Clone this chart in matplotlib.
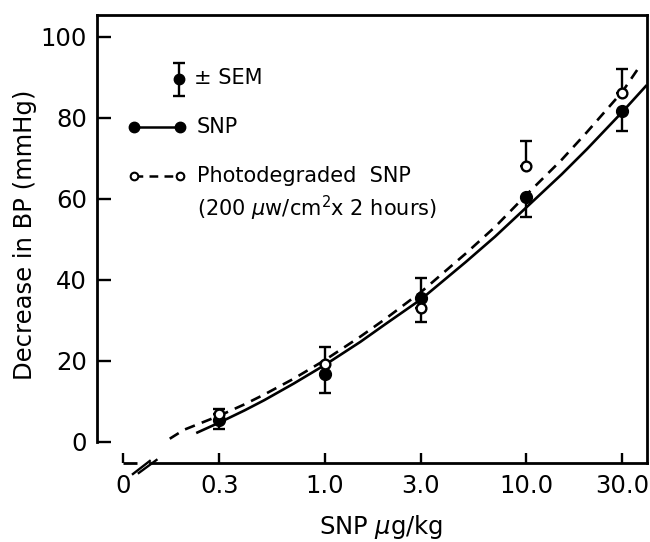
import matplotlib
matplotlib.use("Agg")
import matplotlib.pyplot as plt
import numpy as np

plt.rcParams['font.family'] = ['DejaVu Sans']
plt.rcParams['mathtext.fontset'] = 'dejavusans'

# dose levels (ug/kg) and tick labels
dose = [0.3, 1.0, 3.0, 10.0, 30.0]
zero_pos = 0.0994          # where "0" sits on the broken log axis
tick_pos = [zero_pos] + dose
tick_labels = ["0", "0.3", "1.0", "3.0", "10.0", "30.0"]

# SNP (filled circles), one-sided SEM bars
snp_mean = [5.3, 16.8, 35.6, 60.5, 81.7]
snp_err_lo = [2.1, 4.7, 0.0, 4.9, 4.9]
snp_err_hi = [0.0, 0.0, 4.9, 0.0, 0.0]

# photodegraded SNP (open circles)
photo_mean = [6.8, 19.3, 33.1, 68.1, 86.2]
photo_err_lo = [0.0, 0.0, 3.5, 0.0, 0.0]
photo_err_hi = [1.3, 4.2, 0.0, 6.2, 5.9]

# fitted curves
snp_curve_x = [0.23, 0.3, 0.4, 0.5, 0.7, 1.0, 1.5, 2.0, 3.0, 5.0, 7.0, 10.0, 15.0, 20.0, 30.0, 39.6]
snp_curve_y = [2.2, 4.8, 7.8, 10.3, 14.4, 19.0, 24.7, 29.1, 35.2, 44.4, 50.7, 57.9, 66.1, 72.3, 81.5, 88.1]
photo_curve_x = [0.17, 0.2, 0.3, 0.4, 0.5, 0.7, 1.0, 1.5, 2.0, 3.0, 5.0, 7.0, 10.0, 15.0, 20.0, 30.0, 36.6]
photo_curve_y = [0.8, 3.0, 6.5, 9.3, 11.7, 15.6, 20.2, 26.0, 30.4, 37.0, 46.5, 53.1, 61.0, 69.7, 76.5, 86.5, 92.8]

fig = plt.figure(figsize=(6.5, 5.42), dpi=100)
ax = fig.add_axes([0.149, 0.1458, 0.846, 0.8265])
ax.set_xscale('log')
ax.set_xlim(0.0739, 39.6)
ax.set_ylim(-5.19, 105.4)

lw = 1.9
ax.plot(snp_curve_x, snp_curve_y, color='black', lw=lw, solid_capstyle='butt', zorder=2)
ax.plot(photo_curve_x, photo_curve_y, color='black', lw=lw, dashes=(4.0, 2.8), zorder=2)

# error bars
ax.errorbar(dose, snp_mean, yerr=[snp_err_lo, snp_err_hi], fmt='none',
            ecolor='black', elinewidth=1.7, capsize=4, capthick=1.7, zorder=3)
ax.errorbar(dose, photo_mean, yerr=[photo_err_lo, photo_err_hi], fmt='none',
            ecolor='black', elinewidth=1.7, capsize=4, capthick=1.7, zorder=3)
ax.plot(dose, snp_mean, 'o', ms=8.5, mfc='black', mec='black', zorder=4)
ax.plot(dose, photo_mean, 'o', ms=7, mfc='white', mec='black', mew=1.7, zorder=4)

# axes styling
for s in ax.spines.values():
    s.set_linewidth(2.0)
ax.spines['left'].set_bounds(0, 105.4)
ax.spines['bottom'].set_bounds(0.1353, 39.6)

ax.set_xticks(tick_pos)
ax.set_xticklabels(tick_labels)
ax.xaxis.set_minor_locator(matplotlib.ticker.NullLocator())
ax.set_yticks([0, 20, 40, 60, 80, 100])
ax.tick_params(axis='x', direction='in', length=7.5, width=1.7, pad=8, labelsize=17.5)
ax.tick_params(axis='y', direction='in', length=10, width=1.7, pad=7, labelsize=17.5)

# axis break near zero
xt = ax.get_xaxis_transform()
ax.plot([zero_pos, 0.1167], [0, 0], color='black', lw=2.0, transform=xt, clip_on=False,
        solid_capstyle='butt')
ax.plot([0.1116, 0.1353], [-0.0246, 0.0045], color='black', lw=1.7, transform=xt, clip_on=False)
ax.plot([0.1193, 0.1461], [-0.0223, 0.0067], color='black', lw=1.7, transform=xt, clip_on=False)

# labels
ax.text(0.516, -0.143, "SNP $\\mu$g/kg", transform=ax.transAxes, ha='center', va='center',
        fontsize=17.5)
ax.text(-0.131, 0.509, "Decrease in BP (mmHg)", transform=ax.transAxes, ha='center',
        va='center', rotation=90, fontsize=17.5)

# hand-drawn key
ta = ax.transAxes
ax.errorbar([0.149], [0.857], yerr=[[0.0368], [0.0368]], fmt='o', ms=7.5, color='black',
            elinewidth=1.7, capsize=4, capthick=1.7, transform=ta, clip_on=False)
ax.text(0.176, 0.859, "± SEM", transform=ta, ha='left', va='center', fontsize=15)
ax.plot([0.067, 0.151], [0.75, 0.75], '-o', color='black', ms=7.5, lw=1.8, transform=ta)
ax.text(0.182, 0.75, "SNP", transform=ta, ha='left', va='center', fontsize=15)
ax.plot([0.067, 0.151], [0.641, 0.641], '--o', color='black', mfc='white', ms=5.5,
        mew=1.5, lw=1.8, dashes=(3.5, 2.5), transform=ta)
ax.text(0.182, 0.641, "Photodegraded  SNP", transform=ta, ha='left', va='center', fontsize=15)
ax.text(0.182, 0.569, "(200 $\\mu$w/cm$^2$x 2 hours)", transform=ta, ha='left',
        va='center', fontsize=15)

fig.savefig("out.png", dpi=100)
